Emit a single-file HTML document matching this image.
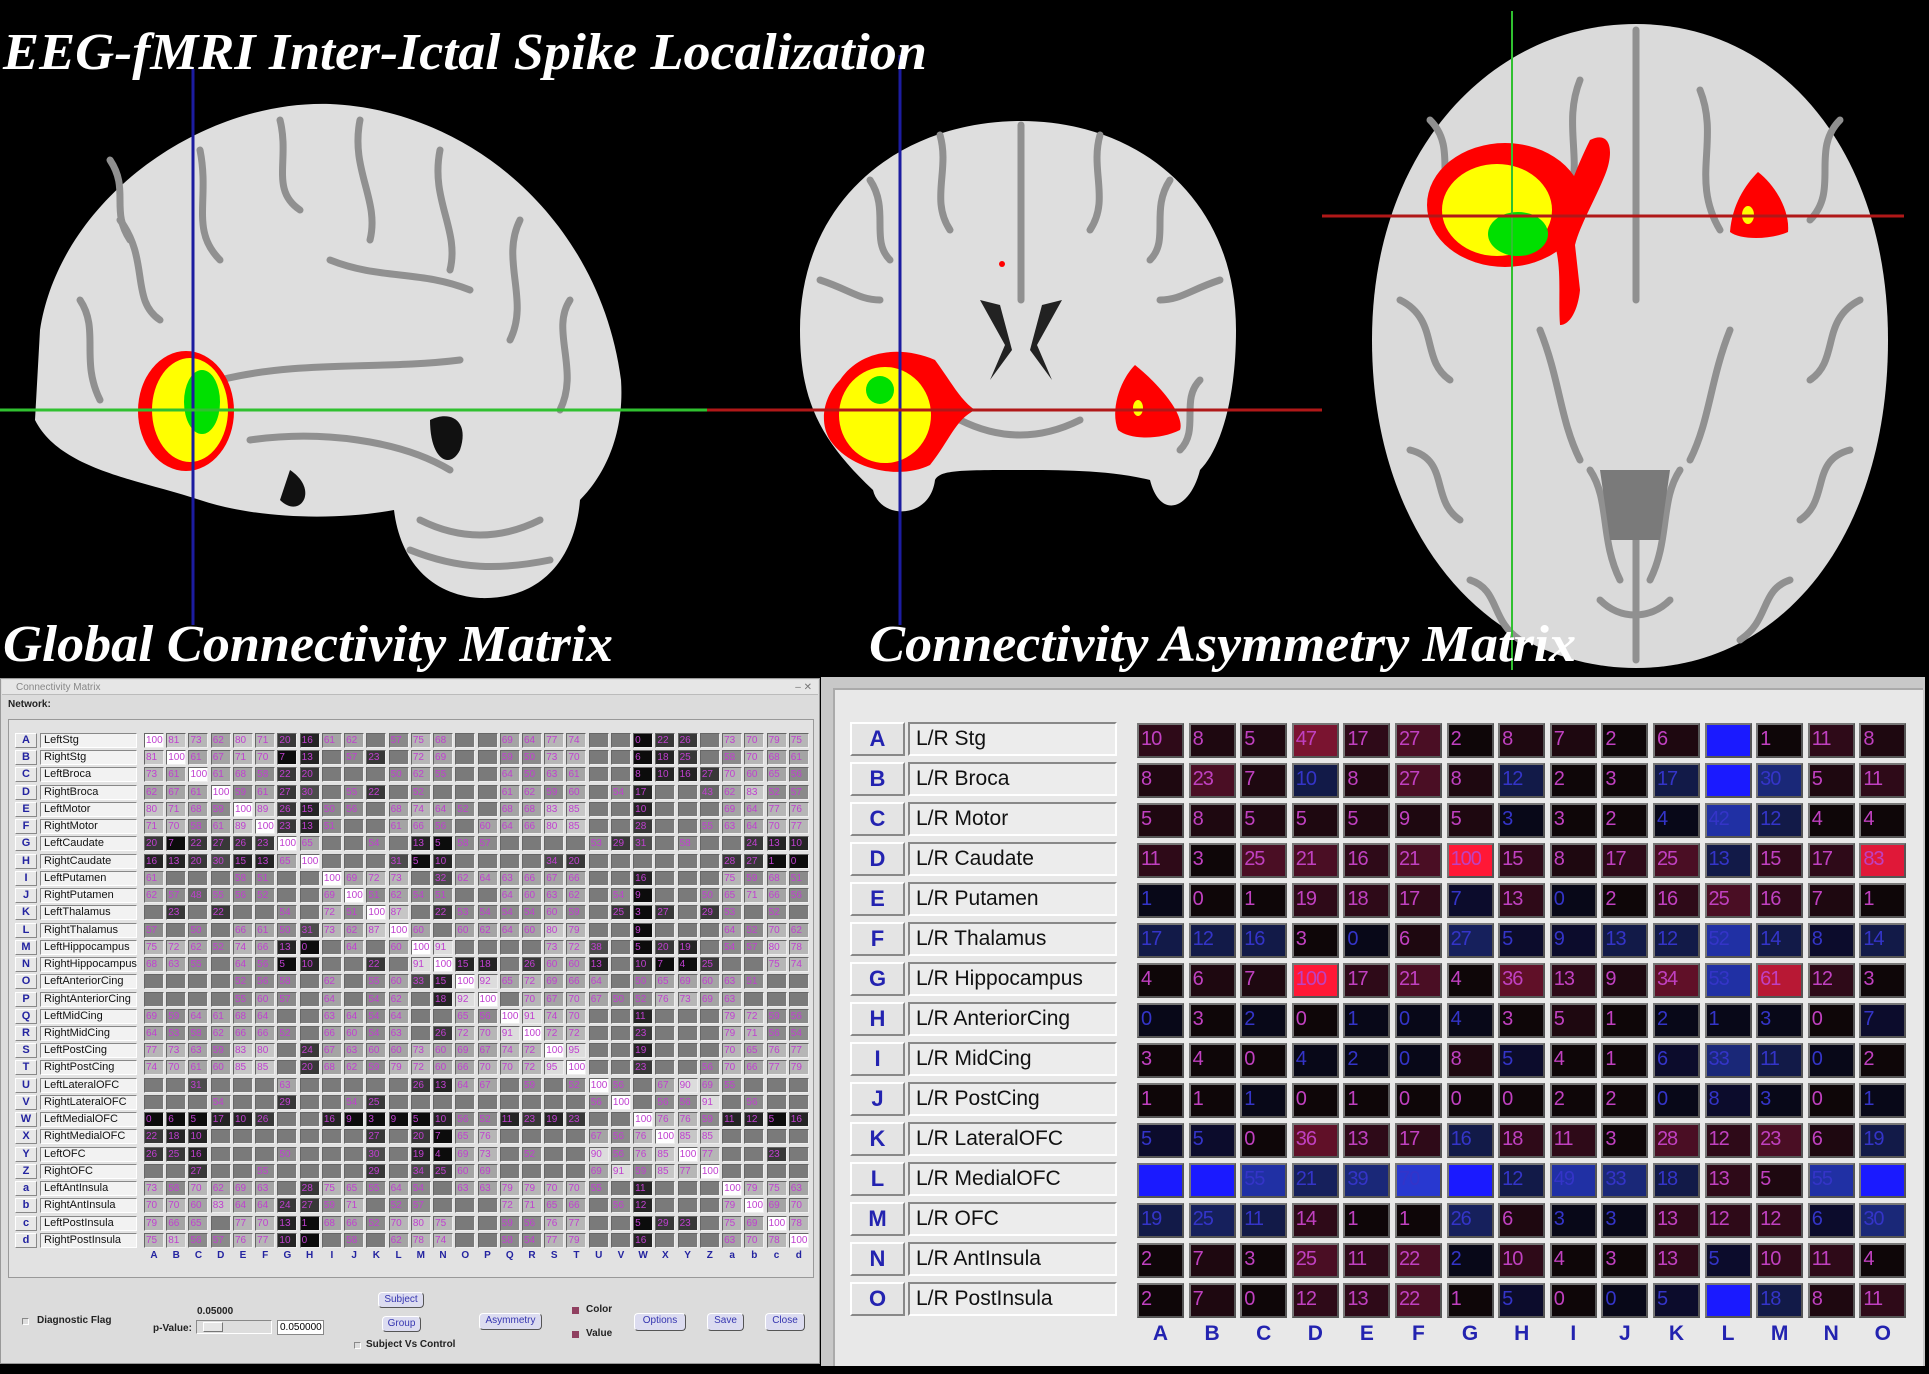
<!DOCTYPE html>
<html><head><meta charset="utf-8"><style>
*{margin:0;padding:0;box-sizing:border-box}
body{width:1929px;height:1374px;background:#000;position:relative;overflow:hidden;font-family:"Liberation Sans",sans-serif}
.abs{position:absolute}
.ttl{position:absolute;color:#fff;font-family:"Liberation Serif",serif;font-style:italic;font-weight:bold;font-size:52px;line-height:1;white-space:nowrap;transform-origin:0 0;transform:scaleX(1.04)}
#lp{left:0;top:678px;width:820px;height:686px;background:#dcdcdc;border:1px solid #999}
#lbar{left:1px;top:1px;width:816px;height:15px;background:#e6e6e6;border-bottom:1px solid #bbb;font-size:10px;color:#888;line-height:15px;padding-left:14px}
#lin{left:7px;top:40px;width:806px;height:559px;border:1px solid #999;background:#e2e2e2}
.LG{position:absolute;left:144px;top:733px;display:grid;grid-template-columns:repeat(30,20px);column-gap:2.24px;grid-auto-rows:15px;row-gap:2.24px}
.LG i{display:block;font-style:normal;font-size:10px;line-height:13px;color:#c040d0;border:1px solid;border-color:#666 #eee #eee #666;padding-left:1px;overflow:hidden;white-space:nowrap}
.g0{background:#0c0c0c}.g1{background:#242424}.g2{background:#383838}.g3{background:#4c4c4c}.g4{background:#666}.g5{background:#8a8a8a}.g6{background:#a4a4a4}.g7{background:#b6b6b6}.g8{background:#c6c6c6}.g9{background:#dcdcdc}.g10{background:#fff}.q{background:#7a7a7a}
.LL{position:absolute;left:15px;top:733px;display:grid;grid-template-columns:22px 97px;column-gap:3px;grid-auto-rows:15px;row-gap:2.24px}
.LL b{display:block;background:#e8e8e8;border:1px solid;border-color:#fff #888 #888 #fff;color:#2323a0;font-size:11px;text-align:center;line-height:13px}
.LL span{display:block;background:#f2f2f2;border:1px solid;border-color:#888 #fff #fff #888;font-size:11px;line-height:13px;padding-left:3px;color:#111;white-space:nowrap}
.LC{position:absolute;left:144px;top:1250px;display:grid;grid-template-columns:repeat(30,20px);column-gap:2.24px}
.LC b{font-size:10px;color:#2323a0;text-align:center}
.btn{position:absolute;background:#dcdcf0;border:1px solid;border-color:#fff #555 #555 #fff;border-radius:4px;color:#3535b0;font-size:10px;text-align:center;line-height:14px}
.lab{position:absolute;font-size:10px;font-weight:bold;color:#222;white-space:nowrap}
.cb{position:absolute;width:7px;height:7px;border:1px solid;border-color:#888 #fff #fff #888;background:#ddd}
#rp{left:821px;top:677px;width:1104px;height:689px;background:#c8c8c8}
#rin{left:12px;top:11px;width:1090px;height:678px;background:#e8e8e8;border-left:2px solid #aaa;border-top:2px solid #aaa}
.RL{position:absolute;left:850px;top:722px;display:grid;grid-template-columns:55px 209px;column-gap:3px;grid-auto-rows:34px;row-gap:6px}
.RL b{display:block;background:#e4e4e4;border:2px solid;border-color:#fff #888 #888 #fff;color:#2323b0;font-size:22px;text-align:center;line-height:30px}
.RL span{display:block;background:#ececec;border:2px solid;border-color:#888 #fff #fff #888;font-size:21px;line-height:30px;padding-left:6px;color:#111;white-space:nowrap}
.RG{position:absolute;left:1137px;top:723px;display:grid;grid-template-columns:repeat(15,47px);column-gap:4.6px;grid-auto-rows:35px;row-gap:5px}
.RG i{display:block;font-style:normal;font-size:20px;line-height:29px;padding-left:2px;border:2px solid;border-color:#777 #555 #555 #777;color:#c040c0;overflow:hidden;letter-spacing:-1px}
.r0{background:#0e0608}.r1{background:#1e0810}.r2{background:#2e0a18}.r3{background:#4a0e24}.r4{background:#601028}.r5{background:#7a1430}.r6{background:#b81834}.r7{background:#e01838}.r8{background:#ff1836}
.x0,.x1,.x2,.x3,.x4,.x5,.x6{color:#3434c8!important}
.x0{background:#080818}.x1{background:#0c0c2c}.x2{background:#121a48}.x3{background:#16205c}.x4{background:#1a2878}.x5{background:#2030a4}.x6{background:#2838d0}.B{background:#1a1aff}
.RC{position:absolute;left:1137px;top:1322px;display:grid;grid-template-columns:repeat(15,47px);column-gap:4.6px}
.RC b{font-size:21px;color:#2323b0;text-align:center}
</style></head><body>

<svg class="abs" style="left:0;top:0" width="1929" height="676" viewBox="0 0 1929 676">
<!-- sagittal -->
<path d="M40 330 C60 200 200 100 330 104 C470 110 600 220 621 380 C625 440 600 480 580 500 C575 560 540 600 480 598 C430 595 400 560 394 510 C340 520 260 520 200 500 C140 480 60 470 35 420 Z" fill="#dedede"/>
<g fill="none" stroke="#909090" stroke-width="7" stroke-linecap="round">
<path d="M120 220 C150 260 130 300 160 320"/><path d="M200 150 C210 200 190 230 220 260"/><path d="M280 120 C290 160 270 190 300 210"/><path d="M360 120 C350 170 380 200 370 240"/><path d="M440 150 C430 200 460 230 450 270"/><path d="M520 220 C500 260 530 300 510 340"/><path d="M570 300 C550 330 580 370 560 410"/>
<path d="M220 380 C300 360 380 370 460 360"/><path d="M250 440 C320 430 400 440 450 470"/><path d="M80 300 C100 330 80 360 100 400"/>
<path d="M420 520 C460 540 500 540 540 520"/><path d="M410 550 C460 570 500 570 550 560"/><path d="M330 260 C380 280 420 270 470 290"/><path d="M110 160 C130 190 110 210 130 240" />
</g>
<path d="M430 420 C450 410 470 420 460 450 C450 470 430 460 430 420Z" fill="#111"/>
<path d="M290 470 C320 490 300 520 280 500Z" fill="#111"/>
<!-- coronal -->
<path d="M800 330 C800 200 900 121 1021 121 C1140 121 1236 200 1236 330 C1236 400 1220 450 1200 470 C1190 510 1160 520 1150 480 C1110 470 1060 470 1021 470 C960 470 940 470 935 480 C930 520 880 520 873 490 C820 440 800 400 800 330 Z" fill="#dedede"/>
<g fill="none" stroke="#909090" stroke-width="7" stroke-linecap="round">
<path d="M1021 125 L1021 300"/><path d="M870 180 C890 210 870 240 890 260"/><path d="M940 135 C950 170 930 200 950 230"/><path d="M1100 135 C1090 170 1110 200 1090 230"/><path d="M1170 180 C1150 210 1170 240 1150 260"/><path d="M820 280 C850 290 860 300 880 300"/><path d="M1220 280 C1190 290 1180 300 1160 300"/><path d="M1200 380 C1180 400 1200 430 1180 450"/><path d="M960 420 C1000 440 1040 440 1080 420"/>
</g>
<g fill="#222"><path d="M980 300 L1005 345 L990 380 L1012 350 L1000 305Z"/><path d="M1062 300 L1037 345 L1052 380 L1030 350 L1042 305Z"/></g>
<!-- axial -->
<path d="M1636 24 C1780 24 1888 150 1888 340 C1888 540 1780 668 1636 668 C1492 668 1372 540 1372 340 C1372 150 1492 24 1636 24 Z" fill="#dadada"/>
<g fill="none" stroke="#909090" stroke-width="7" stroke-linecap="round">
<path d="M1636 30 L1636 300"/><path d="M1636 520 L1636 660"/>
<path d="M1430 120 C1460 150 1430 190 1460 220"/><path d="M1400 300 C1440 320 1420 360 1450 380"/><path d="M1410 450 C1450 460 1430 500 1460 520"/><path d="M1470 580 C1500 590 1490 620 1520 640"/>
<path d="M1840 120 C1810 150 1840 190 1810 220"/><path d="M1860 300 C1820 320 1840 360 1810 380"/><path d="M1850 450 C1810 460 1830 500 1800 520"/><path d="M1790 580 C1760 590 1770 620 1740 640"/>
<path d="M1540 330 C1560 380 1560 420 1580 460"/><path d="M1730 330 C1710 380 1710 420 1690 460"/>
<path d="M1700 90 C1720 140 1690 180 1720 230"/><path d="M1580 80 C1560 130 1590 170 1560 220"/>
<path d="M1590 470 C1610 500 1600 540 1620 580"/><path d="M1680 470 C1660 500 1670 540 1650 580"/><path d="M1600 600 C1620 620 1650 620 1670 600"/>
</g>
<path d="M1600 470 L1670 470 L1660 540 L1610 540Z" fill="#7a7a7a"/>
<!-- blobs -->
<ellipse cx="186" cy="411" rx="48" ry="60" fill="#ff0000"/>
<ellipse cx="190" cy="410" rx="38" ry="52" fill="#ffff00"/>
<ellipse cx="202" cy="402" rx="18" ry="32" fill="#00e000"/>
<path d="M840 380 C860 350 900 345 935 360 C950 380 960 400 975 410 C955 420 950 440 930 465 C900 480 850 470 830 440 C818 420 825 395 840 380Z" fill="#ff0000"/>
<ellipse cx="885" cy="415" rx="46" ry="48" fill="#ffff00"/>
<ellipse cx="880" cy="390" rx="14" ry="14" fill="#00e000"/>
<path d="M1135 365 C1160 385 1185 415 1180 430 C1160 440 1130 440 1118 430 C1110 410 1120 380 1135 365Z" fill="#ff0000"/>
<ellipse cx="1138" cy="408" rx="5" ry="8" fill="#ffff00"/>
<circle cx="1002" cy="264" r="3" fill="#ff0000"/>
<ellipse cx="1505" cy="205" rx="78" ry="62" fill="#ff0000"/>
<ellipse cx="1497" cy="210" rx="55" ry="46" fill="#ffff00"/>
<ellipse cx="1518" cy="234" rx="30" ry="22" fill="#00e000"/>
<path d="M1590 140 C1610 130 1615 150 1605 175 C1595 200 1580 225 1575 245 L1580 290 C1578 310 1570 325 1560 325 C1558 300 1562 270 1555 245 C1560 210 1575 170 1590 140Z" fill="#ff0000"/>
<path d="M1758 172 C1775 185 1790 210 1788 232 C1770 240 1740 240 1730 232 C1732 205 1745 185 1758 172Z" fill="#ff0000"/>
<ellipse cx="1748" cy="215" rx="6" ry="9" fill="#ffff00"/>
<!-- crosshair lines -->
<line x1="193" y1="69" x2="193" y2="625" stroke="#1c1ca0" stroke-width="3"/>
<line x1="900" y1="55" x2="900" y2="625" stroke="#1c1ca0" stroke-width="3"/>
<line x1="0" y1="410" x2="707" y2="410" stroke="#30c030" stroke-width="3"/>
<line x1="707" y1="410" x2="1322" y2="410" stroke="#b01818" stroke-width="3"/>
<line x1="1512" y1="11" x2="1512" y2="670" stroke="#30c030" stroke-width="2"/>
<line x1="1322" y1="216" x2="1904" y2="216" stroke="#b01818" stroke-width="3"/>
</svg>

<div class="ttl" style="left:3px;top:27px">EEG-fMRI Inter-Ictal Spike Localization</div>
<div class="ttl" style="left:3px;top:619px">Global Connectivity Matrix</div>
<div class="ttl" style="left:869px;top:619px">Connectivity Asymmetry Matrix</div>

<div id="lp" class="abs">
<div id="lbar" class="abs">Connectivity Matrix<span style="position:absolute;right:6px;color:#777">– ✕</span></div>
<div class="lab" style="left:7px;top:20px">Network:</div>
<div id="lin" class="abs"></div>
</div>

<div class="LL">
<b>A</b><span>LeftStg</span><b>B</b><span>RightStg</span><b>C</b><span>LeftBroca</span><b>D</b><span>RightBroca</span><b>E</b><span>LeftMotor</span><b>F</b><span>RightMotor</span><b>G</b><span>LeftCaudate</span><b>H</b><span>RightCaudate</span><b>I</b><span>LeftPutamen</span><b>J</b><span>RightPutamen</span><b>K</b><span>LeftThalamus</span><b>L</b><span>RightThalamus</span><b>M</b><span>LeftHippocampus</span><b>N</b><span>RightHippocampus</span><b>O</b><span>LeftAnteriorCing</span><b>P</b><span>RightAnteriorCing</span><b>Q</b><span>LeftMidCing</span><b>R</b><span>RightMidCing</span><b>S</b><span>LeftPostCing</span><b>T</b><span>RightPostCing</span><b>U</b><span>LeftLateralOFC</span><b>V</b><span>RightLateralOFC</span><b>W</b><span>LeftMedialOFC</span><b>X</b><span>RightMedialOFC</span><b>Y</b><span>LeftOFC</span><b>Z</b><span>RightOFC</span><b>a</b><span>LeftAntInsula</span><b>b</b><span>RightAntInsula</span><b>c</b><span>LeftPostInsula</span><b>d</b><span>RightPostInsula</span>
</div>

<div class="LG">
<i class=g10>100</i><i class=g8>81</i><i class=g7>73</i><i class=g6>62</i><i class=g8>80</i><i class=g7>71</i><i class=g2>20</i><i class=g1>16</i><i class=g6>61</i><i class=g6>62</i><i class=q></i><i class=g5>57</i><i class=g7>75</i><i class=g6>68</i><i class=q></i><i class=q></i><i class=g6>69</i><i class=g6>64</i><i class=g7>77</i><i class=g7>74</i><i class=q></i><i class=q></i><i class=g0>0</i><i class=g2>22</i><i class=g2>26</i><i class=q></i><i class=g7>73</i><i class=g7>70</i><i class=g7>79</i><i class=g7>75</i>
<i class=g8>81</i><i class=g10>100</i><i class=g6>61</i><i class=g6>67</i><i class=g7>71</i><i class=g7>70</i><i class=g0>7</i><i class=g1>13</i><i class=q></i><i class=g5>57</i><i class=g2>23</i><i class=q></i><i class=g7>72</i><i class=g6>69</i><i class=q></i><i class=q></i><i class=g5>59</i><i class=g5>50</i><i class=g7>73</i><i class=g7>70</i><i class=q></i><i class=q></i><i class=g0>6</i><i class=g1>18</i><i class=g2>25</i><i class=q></i><i class=g5>58</i><i class=g7>70</i><i class=g6>68</i><i class=g6>61</i>
<i class=g7>73</i><i class=g6>61</i><i class=g10>100</i><i class=g6>61</i><i class=g6>68</i><i class=g5>58</i><i class=g2>22</i><i class=g2>20</i><i class=q></i><i class=q></i><i class=q></i><i class=g5>50</i><i class=g6>62</i><i class=g5>55</i><i class=q></i><i class=q></i><i class=g6>64</i><i class=g5>50</i><i class=g6>63</i><i class=g6>61</i><i class=q></i><i class=q></i><i class=g0>8</i><i class=g1>10</i><i class=g1>16</i><i class=g2>27</i><i class=g7>70</i><i class=g6>60</i><i class=g6>65</i><i class=g5>56</i>
<i class=g6>62</i><i class=g6>67</i><i class=g6>61</i><i class=g10>100</i><i class=g5>59</i><i class=g6>61</i><i class=g2>27</i><i class=g3>30</i><i class=q></i><i class=g5>55</i><i class=g2>22</i><i class=q></i><i class=g5>52</i><i class=q></i><i class=q></i><i class=q></i><i class=g6>61</i><i class=g6>62</i><i class=g5>59</i><i class=g6>60</i><i class=q></i><i class=g5>54</i><i class=g1>17</i><i class=q></i><i class=q></i><i class=g4>43</i><i class=g6>62</i><i class=g8>83</i><i class=g5>52</i><i class=g5>57</i>
<i class=g8>80</i><i class=g7>71</i><i class=g6>68</i><i class=g5>59</i><i class=g10>100</i><i class=g8>89</i><i class=g2>26</i><i class=g1>15</i><i class=g5>50</i><i class=g5>56</i><i class=q></i><i class=g6>68</i><i class=g7>74</i><i class=g6>64</i><i class=g5>52</i><i class=q></i><i class=g6>68</i><i class=g6>68</i><i class=g8>83</i><i class=g8>85</i><i class=q></i><i class=q></i><i class=g1>10</i><i class=q></i><i class=q></i><i class=q></i><i class=g6>69</i><i class=g6>64</i><i class=g7>77</i><i class=g7>76</i>
<i class=g7>71</i><i class=g7>70</i><i class=g5>58</i><i class=g6>61</i><i class=g8>89</i><i class=g10>100</i><i class=g2>23</i><i class=g1>13</i><i class=g5>51</i><i class=q></i><i class=q></i><i class=g6>61</i><i class=g6>66</i><i class=g5>56</i><i class=q></i><i class=g6>60</i><i class=g6>64</i><i class=g6>66</i><i class=g8>80</i><i class=g8>85</i><i class=q></i><i class=q></i><i class=g2>28</i><i class=q></i><i class=q></i><i class=g5>55</i><i class=g6>63</i><i class=g6>64</i><i class=g7>70</i><i class=g7>77</i>
<i class=g2>20</i><i class=g0>7</i><i class=g2>22</i><i class=g2>27</i><i class=g2>26</i><i class=g2>23</i><i class=g10>100</i><i class=g6>65</i><i class=q></i><i class=q></i><i class=g5>54</i><i class=q></i><i class=g1>13</i><i class=g0>5</i><i class=g5>58</i><i class=g5>57</i><i class=q></i><i class=q></i><i class=q></i><i class=q></i><i class=g5>53</i><i class=g2>29</i><i class=g3>31</i><i class=q></i><i class=g5>58</i><i class=q></i><i class=q></i><i class=g2>24</i><i class=g1>13</i><i class=g1>10</i>
<i class=g1>16</i><i class=g1>13</i><i class=g2>20</i><i class=g3>30</i><i class=g1>15</i><i class=g1>13</i><i class=g6>65</i><i class=g10>100</i><i class=q></i><i class=q></i><i class=q></i><i class=g3>31</i><i class=g0>5</i><i class=g1>10</i><i class=q></i><i class=q></i><i class=q></i><i class=q></i><i class=g3>34</i><i class=g2>20</i><i class=q></i><i class=q></i><i class=q></i><i class=q></i><i class=q></i><i class=q></i><i class=g2>28</i><i class=g2>27</i><i class=g0>1</i><i class=g0>0</i>
<i class=g6>61</i><i class=q></i><i class=q></i><i class=q></i><i class=g5>58</i><i class=g5>51</i><i class=q></i><i class=q></i><i class=g10>100</i><i class=g6>69</i><i class=g7>72</i><i class=g7>73</i><i class=q></i><i class=g3>32</i><i class=g6>62</i><i class=g6>64</i><i class=g6>63</i><i class=g6>66</i><i class=g6>67</i><i class=g6>66</i><i class=q></i><i class=q></i><i class=g1>16</i><i class=q></i><i class=q></i><i class=q></i><i class=g7>75</i><i class=g5>59</i><i class=g6>68</i><i class=g5>51</i>
<i class=g6>62</i><i class=g5>57</i><i class=g4>48</i><i class=g5>55</i><i class=g5>56</i><i class=g5>52</i><i class=q></i><i class=q></i><i class=g6>69</i><i class=g10>100</i><i class=g5>51</i><i class=g6>62</i><i class=g5>54</i><i class=g5>51</i><i class=q></i><i class=q></i><i class=g6>64</i><i class=g6>60</i><i class=g6>63</i><i class=g6>62</i><i class=q></i><i class=g5>54</i><i class=g0>9</i><i class=q></i><i class=q></i><i class=g5>50</i><i class=g6>65</i><i class=g7>71</i><i class=g6>66</i><i class=g5>56</i>
<i class=q></i><i class=g2>23</i><i class=q></i><i class=g2>22</i><i class=q></i><i class=q></i><i class=g5>54</i><i class=q></i><i class=g7>72</i><i class=g5>51</i><i class=g10>100</i><i class=g8>87</i><i class=q></i><i class=g2>22</i><i class=g5>53</i><i class=g5>54</i><i class=g5>54</i><i class=g5>54</i><i class=g6>60</i><i class=g5>59</i><i class=q></i><i class=g2>25</i><i class=g0>3</i><i class=g2>27</i><i class=q></i><i class=g2>29</i><i class=g5>53</i><i class=q></i><i class=g5>52</i><i class=q></i>
<i class=g5>57</i><i class=q></i><i class=g5>50</i><i class=q></i><i class=g6>66</i><i class=g6>61</i><i class=g5>50</i><i class=g3>31</i><i class=g7>73</i><i class=g6>62</i><i class=g8>87</i><i class=g10>100</i><i class=g6>60</i><i class=q></i><i class=g6>60</i><i class=g6>62</i><i class=g6>64</i><i class=g6>60</i><i class=g8>80</i><i class=g7>79</i><i class=q></i><i class=q></i><i class=g0>9</i><i class=q></i><i class=q></i><i class=q></i><i class=g6>64</i><i class=g5>52</i><i class=g7>70</i><i class=g6>62</i>
<i class=g7>75</i><i class=g7>72</i><i class=g6>62</i><i class=g5>52</i><i class=g7>74</i><i class=g6>66</i><i class=g1>13</i><i class=g0>0</i><i class=q></i><i class=g6>64</i><i class=q></i><i class=g6>60</i><i class=g10>100</i><i class=g9>91</i><i class=q></i><i class=q></i><i class=q></i><i class=q></i><i class=g7>73</i><i class=g7>72</i><i class=g3>38</i><i class=q></i><i class=g0>5</i><i class=g2>20</i><i class=g1>19</i><i class=q></i><i class=g5>54</i><i class=g5>57</i><i class=g8>80</i><i class=g7>78</i>
<i class=g6>68</i><i class=g6>63</i><i class=g5>55</i><i class=q></i><i class=g6>64</i><i class=g5>56</i><i class=g0>5</i><i class=g1>10</i><i class=q></i><i class=q></i><i class=g2>22</i><i class=q></i><i class=g9>91</i><i class=g10>100</i><i class=g1>15</i><i class=g1>18</i><i class=q></i><i class=g2>26</i><i class=g6>60</i><i class=g6>60</i><i class=g1>13</i><i class=q></i><i class=g1>10</i><i class=g0>7</i><i class=g0>4</i><i class=g2>25</i><i class=q></i><i class=q></i><i class=g7>75</i><i class=g7>74</i>
<i class=q></i><i class=q></i><i class=q></i><i class=q></i><i class=g5>52</i><i class=g5>56</i><i class=g5>58</i><i class=q></i><i class=g6>62</i><i class=q></i><i class=g5>55</i><i class=g6>60</i><i class=g3>33</i><i class=g1>15</i><i class=g10>100</i><i class=g9>92</i><i class=g6>65</i><i class=g7>72</i><i class=g6>69</i><i class=g6>66</i><i class=g6>64</i><i class=q></i><i class=g5>50</i><i class=g6>65</i><i class=g6>69</i><i class=g6>60</i><i class=g6>63</i><i class=g5>51</i><i class=q></i><i class=q></i>
<i class=q></i><i class=q></i><i class=q></i><i class=q></i><i class=g5>55</i><i class=g6>60</i><i class=g5>57</i><i class=q></i><i class=g6>64</i><i class=q></i><i class=g5>54</i><i class=g6>62</i><i class=q></i><i class=g1>18</i><i class=g9>92</i><i class=g10>100</i><i class=q></i><i class=g7>70</i><i class=g6>67</i><i class=g7>70</i><i class=g6>67</i><i class=g5>50</i><i class=g5>52</i><i class=g7>76</i><i class=g7>73</i><i class=g6>69</i><i class=g6>63</i><i class=q></i><i class=q></i><i class=q></i>
<i class=g6>69</i><i class=g5>59</i><i class=g6>64</i><i class=g6>61</i><i class=g6>68</i><i class=g6>64</i><i class=q></i><i class=q></i><i class=g6>63</i><i class=g6>64</i><i class=g5>54</i><i class=g6>64</i><i class=q></i><i class=q></i><i class=g6>65</i><i class=g5>56</i><i class=g10>100</i><i class=g9>91</i><i class=g7>74</i><i class=g7>70</i><i class=q></i><i class=q></i><i class=g1>11</i><i class=q></i><i class=q></i><i class=q></i><i class=g7>79</i><i class=g7>72</i><i class=g5>59</i><i class=g5>56</i>
<i class=g6>64</i><i class=g5>53</i><i class=g5>58</i><i class=g6>62</i><i class=g6>66</i><i class=g6>66</i><i class=g5>52</i><i class=q></i><i class=g6>66</i><i class=g6>60</i><i class=g5>54</i><i class=g6>63</i><i class=q></i><i class=g2>26</i><i class=g7>72</i><i class=g7>70</i><i class=g9>91</i><i class=g10>100</i><i class=g7>72</i><i class=g7>72</i><i class=q></i><i class=q></i><i class=g2>23</i><i class=q></i><i class=q></i><i class=q></i><i class=g7>79</i><i class=g7>71</i><i class=g5>56</i><i class=g5>54</i>
<i class=g7>77</i><i class=g7>73</i><i class=g6>63</i><i class=g5>59</i><i class=g8>83</i><i class=g8>80</i><i class=q></i><i class=g2>24</i><i class=g6>67</i><i class=g6>63</i><i class=g6>60</i><i class=g6>60</i><i class=g7>73</i><i class=g6>60</i><i class=g6>69</i><i class=g6>67</i><i class=g7>74</i><i class=g7>72</i><i class=g10>100</i><i class=g9>95</i><i class=q></i><i class=q></i><i class=g1>19</i><i class=q></i><i class=q></i><i class=q></i><i class=g7>70</i><i class=g6>65</i><i class=g7>76</i><i class=g7>77</i>
<i class=g7>74</i><i class=g7>70</i><i class=g6>61</i><i class=g6>60</i><i class=g8>85</i><i class=g8>85</i><i class=q></i><i class=g2>20</i><i class=g6>68</i><i class=g6>62</i><i class=g5>59</i><i class=g7>79</i><i class=g7>72</i><i class=g6>60</i><i class=g6>66</i><i class=g7>70</i><i class=g7>70</i><i class=g7>72</i><i class=g9>95</i><i class=g10>100</i><i class=q></i><i class=q></i><i class=g2>23</i><i class=q></i><i class=q></i><i class=g5>56</i><i class=g7>70</i><i class=g6>66</i><i class=g7>77</i><i class=g7>79</i>
<i class=q></i><i class=q></i><i class=g3>31</i><i class=q></i><i class=q></i><i class=q></i><i class=g6>63</i><i class=q></i><i class=q></i><i class=q></i><i class=q></i><i class=q></i><i class=g2>26</i><i class=g1>13</i><i class=g6>64</i><i class=g6>67</i><i class=q></i><i class=g5>59</i><i class=q></i><i class=g5>52</i><i class=g10>100</i><i class=g5>56</i><i class=q></i><i class=g6>67</i><i class=g9>90</i><i class=g6>69</i><i class=g5>55</i><i class=q></i><i class=q></i><i class=q></i>
<i class=q></i><i class=q></i><i class=q></i><i class=g5>54</i><i class=q></i><i class=q></i><i class=g2>29</i><i class=q></i><i class=q></i><i class=g5>54</i><i class=g2>25</i><i class=q></i><i class=q></i><i class=q></i><i class=q></i><i class=q></i><i class=q></i><i class=q></i><i class=q></i><i class=q></i><i class=g5>56</i><i class=g10>100</i><i class=q></i><i class=g5>56</i><i class=g5>56</i><i class=g9>91</i><i class=q></i><i class=g5>56</i><i class=q></i><i class=q></i>
<i class=g0>0</i><i class=g0>6</i><i class=g0>5</i><i class=g1>17</i><i class=g1>10</i><i class=g2>26</i><i class=q></i><i class=q></i><i class=g1>16</i><i class=g0>9</i><i class=g0>3</i><i class=g0>9</i><i class=g0>5</i><i class=g1>10</i><i class=g5>56</i><i class=g5>52</i><i class=g1>11</i><i class=g2>23</i><i class=g1>19</i><i class=g2>23</i><i class=q></i><i class=q></i><i class=g10>100</i><i class=g7>76</i><i class=g7>76</i><i class=g5>59</i><i class=g1>11</i><i class=g1>12</i><i class=g0>5</i><i class=g1>16</i>
<i class=g2>22</i><i class=g1>18</i><i class=g1>10</i><i class=q></i><i class=q></i><i class=q></i><i class=q></i><i class=q></i><i class=q></i><i class=q></i><i class=g2>27</i><i class=q></i><i class=g2>20</i><i class=g0>7</i><i class=g6>65</i><i class=g7>76</i><i class=q></i><i class=q></i><i class=q></i><i class=q></i><i class=g6>67</i><i class=g5>56</i><i class=g7>76</i><i class=g10>100</i><i class=g8>85</i><i class=g8>85</i><i class=q></i><i class=q></i><i class=q></i><i class=q></i>
<i class=g2>26</i><i class=g2>25</i><i class=g1>16</i><i class=q></i><i class=q></i><i class=q></i><i class=g5>50</i><i class=q></i><i class=q></i><i class=q></i><i class=g3>30</i><i class=q></i><i class=g1>19</i><i class=g0>4</i><i class=g6>69</i><i class=g7>73</i><i class=q></i><i class=g5>52</i><i class=q></i><i class=q></i><i class=g9>90</i><i class=g5>56</i><i class=g7>76</i><i class=g8>85</i><i class=g10>100</i><i class=g7>77</i><i class=q></i><i class=q></i><i class=g2>23</i><i class=q></i>
<i class=q></i><i class=q></i><i class=g2>27</i><i class=q></i><i class=q></i><i class=g5>55</i><i class=q></i><i class=q></i><i class=q></i><i class=q></i><i class=g2>29</i><i class=q></i><i class=g3>34</i><i class=g2>25</i><i class=g6>60</i><i class=g6>69</i><i class=q></i><i class=q></i><i class=q></i><i class=q></i><i class=g6>69</i><i class=g9>91</i><i class=g5>59</i><i class=g8>85</i><i class=g7>77</i><i class=g10>100</i><i class=q></i><i class=q></i><i class=q></i><i class=q></i>
<i class=g7>73</i><i class=g5>58</i><i class=g7>70</i><i class=g6>62</i><i class=g6>69</i><i class=g6>63</i><i class=q></i><i class=g2>28</i><i class=g7>75</i><i class=g6>65</i><i class=g5>55</i><i class=g6>64</i><i class=g5>54</i><i class=q></i><i class=g6>63</i><i class=g6>63</i><i class=g7>79</i><i class=g7>79</i><i class=g7>70</i><i class=g7>70</i><i class=g5>55</i><i class=q></i><i class=g1>11</i><i class=q></i><i class=q></i><i class=q></i><i class=g10>100</i><i class=g7>79</i><i class=g7>75</i><i class=g6>63</i>
<i class=g7>70</i><i class=g7>70</i><i class=g6>60</i><i class=g8>83</i><i class=g6>64</i><i class=g6>64</i><i class=g2>24</i><i class=g2>27</i><i class=g5>59</i><i class=g7>71</i><i class=q></i><i class=g5>52</i><i class=g5>57</i><i class=q></i><i class=q></i><i class=q></i><i class=g7>72</i><i class=g7>71</i><i class=g6>65</i><i class=g6>66</i><i class=q></i><i class=g5>56</i><i class=g1>12</i><i class=q></i><i class=q></i><i class=q></i><i class=g7>79</i><i class=g10>100</i><i class=g6>69</i><i class=g7>70</i>
<i class=g7>79</i><i class=g6>66</i><i class=g6>65</i><i class=q></i><i class=g7>77</i><i class=g7>70</i><i class=g1>13</i><i class=g0>1</i><i class=g6>68</i><i class=g6>66</i><i class=g5>52</i><i class=g7>70</i><i class=g8>80</i><i class=g7>75</i><i class=q></i><i class=q></i><i class=g5>59</i><i class=g5>56</i><i class=g7>76</i><i class=g7>77</i><i class=q></i><i class=q></i><i class=g0>5</i><i class=g2>29</i><i class=g2>23</i><i class=q></i><i class=g7>75</i><i class=g6>69</i><i class=g10>100</i><i class=g7>78</i>
<i class=g7>75</i><i class=g8>81</i><i class=g5>56</i><i class=g5>57</i><i class=g7>76</i><i class=g7>77</i><i class=g1>10</i><i class=g0>0</i><i class=q></i><i class=g5>58</i><i class=q></i><i class=g6>62</i><i class=g7>78</i><i class=g7>74</i><i class=q></i><i class=q></i><i class=g5>58</i><i class=g5>54</i><i class=g7>77</i><i class=g7>79</i><i class=q></i><i class=q></i><i class=g1>16</i><i class=q></i><i class=q></i><i class=q></i><i class=g6>63</i><i class=g7>70</i><i class=g7>78</i><i class=g10>100</i>
</div>
<div class="LC"><b>A</b><b>B</b><b>C</b><b>D</b><b>E</b><b>F</b><b>G</b><b>H</b><b>I</b><b>J</b><b>K</b><b>L</b><b>M</b><b>N</b><b>O</b><b>P</b><b>Q</b><b>R</b><b>S</b><b>T</b><b>U</b><b>V</b><b>W</b><b>X</b><b>Y</b><b>Z</b><b>a</b><b>b</b><b>c</b><b>d</b></div>

<!-- bottom controls -->
<div class="cb" style="left:22px;top:1318px"></div>
<div class="lab" style="left:37px;top:1315px">Diagnostic Flag</div>
<div class="lab" style="left:197px;top:1306px">0.05000</div>
<div class="lab" style="left:153px;top:1323px">p-Value:</div>
<div class="abs" style="left:196px;top:1320px;width:76px;height:14px;background:#ddd;border:1px solid;border-color:#888 #fff #fff #888"><div class="abs" style="left:6px;top:1px;width:20px;height:10px;border:1px solid;border-color:#fff #777 #777 #fff;background:#e6e6e6"></div></div>
<div class="abs" style="left:277px;top:1320px;width:47px;height:15px;background:#fff;border:1px solid #888;font-size:10px;line-height:13px;padding-left:2px">0.050000</div>
<div class="btn" style="left:378px;top:1292px;width:46px;height:16px">Subject</div>
<div class="btn" style="left:382px;top:1316px;width:39px;height:16px">Group</div>
<div class="cb" style="left:354px;top:1342px"></div>
<div class="lab" style="left:366px;top:1339px">Subject Vs Control</div>
<div class="btn" style="left:479px;top:1313px;width:63px;height:17px">Asymmetry</div>
<div class="abs" style="left:572px;top:1307px;width:7px;height:7px;background:#904060"></div>
<div class="lab" style="left:586px;top:1304px">Color</div>
<div class="abs" style="left:572px;top:1331px;width:7px;height:7px;background:#904060"></div>
<div class="lab" style="left:586px;top:1328px">Value</div>
<div class="btn" style="left:634px;top:1313px;width:52px;height:18px">Options</div>
<div class="btn" style="left:707px;top:1313px;width:37px;height:18px">Save</div>
<div class="btn" style="left:765px;top:1313px;width:40px;height:18px">Close</div>

<!-- right panel -->
<div id="rp" class="abs"><div id="rin" class="abs"></div></div>
<div class="RL">
<b>A</b><span>L/R Stg</span><b>B</b><span>L/R Broca</span><b>C</b><span>L/R Motor</span><b>D</b><span>L/R Caudate</span><b>E</b><span>L/R Putamen</span><b>F</b><span>L/R Thalamus</span><b>G</b><span>L/R Hippocampus</span><b>H</b><span>L/R AnteriorCing</span><b>I</b><span>L/R MidCing</span><b>J</b><span>L/R PostCing</span><b>K</b><span>L/R LateralOFC</span><b>L</b><span>L/R MedialOFC</span><b>M</b><span>L/R OFC</span><b>N</b><span>L/R AntInsula</span><b>O</b><span>L/R PostInsula</span>
</div>
<div class="RG">
<i class=r2>10</i><i class=r1>8</i><i class=r1>5</i><i class=r5>47</i><i class=r2>17</i><i class=r3>27</i><i class=r0>2</i><i class=r1>8</i><i class=r1>7</i><i class=r0>2</i><i class=r1>6</i><i class=B></i><i class=r0>1</i><i class=r2>11</i><i class=r1>8</i>
<i class=r1>8</i><i class=r3>23</i><i class=r1>7</i><i class=x2>10</i><i class=r1>8</i><i class=r3>27</i><i class=r1>8</i><i class=x2>12</i><i class=r0>2</i><i class=r0>3</i><i class=x2>17</i><i class=B></i><i class=x4>30</i><i class=r1>5</i><i class=r2>11</i>
<i class=r1>5</i><i class=r1>8</i><i class=r1>5</i><i class=r1>5</i><i class=r1>5</i><i class=r1>9</i><i class=r1>5</i><i class=x0>3</i><i class=r0>3</i><i class=r0>2</i><i class=x0>4</i><i class=x5>42</i><i class=x2>12</i><i class=r0>4</i><i class=r0>4</i>
<i class=r2>11</i><i class=r0>3</i><i class=r3>25</i><i class=r3>21</i><i class=r2>16</i><i class=r3>21</i><i class=r8>100</i><i class=r2>15</i><i class=r1>8</i><i class=r2>17</i><i class=r3>25</i><i class=x2>13</i><i class=r2>15</i><i class=r2>17</i><i class=r7>83</i>
<i class=x0>1</i><i class=r0>0</i><i class=r0>1</i><i class=r2>19</i><i class=r2>18</i><i class=r2>17</i><i class=x1>7</i><i class=r2>13</i><i class=x0>0</i><i class=r0>2</i><i class=r2>16</i><i class=r3>25</i><i class=r2>16</i><i class=r1>7</i><i class=r0>1</i>
<i class=x2>17</i><i class=x2>12</i><i class=x2>16</i><i class=r0>3</i><i class=x0>0</i><i class=r1>6</i><i class=x3>27</i><i class=x1>5</i><i class=x1>9</i><i class=x2>13</i><i class=x2>12</i><i class=x5>52</i><i class=x2>14</i><i class=x1>8</i><i class=x2>14</i>
<i class=r0>4</i><i class=r1>6</i><i class=r1>7</i><i class=r8>100</i><i class=r2>17</i><i class=r3>21</i><i class=r0>4</i><i class=r4>36</i><i class=r2>13</i><i class=r1>9</i><i class=r4>34</i><i class=x5>53</i><i class=r6>61</i><i class=r2>12</i><i class=r0>3</i>
<i class=x0>0</i><i class=r0>3</i><i class=x0>2</i><i class=r0>0</i><i class=x0>1</i><i class=x0>0</i><i class=x0>4</i><i class=r0>3</i><i class=r1>5</i><i class=r0>1</i><i class=x0>2</i><i class=x0>1</i><i class=x0>3</i><i class=r0>0</i><i class=x1>7</i>
<i class=r0>3</i><i class=r0>4</i><i class=r0>0</i><i class=x0>4</i><i class=x0>2</i><i class=x0>0</i><i class=r1>8</i><i class=x1>5</i><i class=r0>4</i><i class=r0>1</i><i class=x1>6</i><i class=x4>33</i><i class=x2>11</i><i class=x0>0</i><i class=r0>2</i>
<i class=r0>1</i><i class=r0>1</i><i class=x0>1</i><i class=r0>0</i><i class=r0>1</i><i class=r0>0</i><i class=r0>0</i><i class=r0>0</i><i class=r0>2</i><i class=r0>2</i><i class=x0>0</i><i class=x1>8</i><i class=x0>3</i><i class=r0>0</i><i class=x0>1</i>
<i class=x1>5</i><i class=x1>5</i><i class=r0>0</i><i class=r4>36</i><i class=r2>13</i><i class=r2>17</i><i class=x2>16</i><i class=r2>18</i><i class=r2>11</i><i class=r0>3</i><i class=r3>28</i><i class=r2>12</i><i class=r3>23</i><i class=r1>6</i><i class=x2>19</i>
<i class=B></i><i class=B></i><i class=x5>55</i><i class=x3>21</i><i class=x4>39</i><i class=x6>70</i><i class=B></i><i class=x2>12</i><i class=x5>49</i><i class=x4>33</i><i class=x2>18</i><i class=r2>13</i><i class=r1>5</i><i class=x5>55</i><i class=B></i>
<i class=x2>19</i><i class=x3>25</i><i class=x2>11</i><i class=r2>14</i><i class=r0>1</i><i class=r0>1</i><i class=x3>26</i><i class=r1>6</i><i class=x0>3</i><i class=x0>3</i><i class=r2>13</i><i class=r2>12</i><i class=r2>12</i><i class=x1>6</i><i class=x4>30</i>
<i class=r0>2</i><i class=r1>7</i><i class=r0>3</i><i class=r3>25</i><i class=r2>11</i><i class=r3>22</i><i class=x0>2</i><i class=r2>10</i><i class=r0>4</i><i class=r0>3</i><i class=r2>13</i><i class=x1>5</i><i class=r2>10</i><i class=r2>11</i><i class=r0>4</i>
<i class=r0>2</i><i class=r1>7</i><i class=r0>0</i><i class=r2>12</i><i class=r2>13</i><i class=r3>22</i><i class=r0>1</i><i class=x1>5</i><i class=r0>0</i><i class=x0>0</i><i class=x1>5</i><i class=B></i><i class=x2>18</i><i class=r1>8</i><i class=r2>11</i>
</div>
<div class="RC"><b>A</b><b>B</b><b>C</b><b>D</b><b>E</b><b>F</b><b>G</b><b>H</b><b>I</b><b>J</b><b>K</b><b>L</b><b>M</b><b>N</b><b>O</b></div>
</body></html>
